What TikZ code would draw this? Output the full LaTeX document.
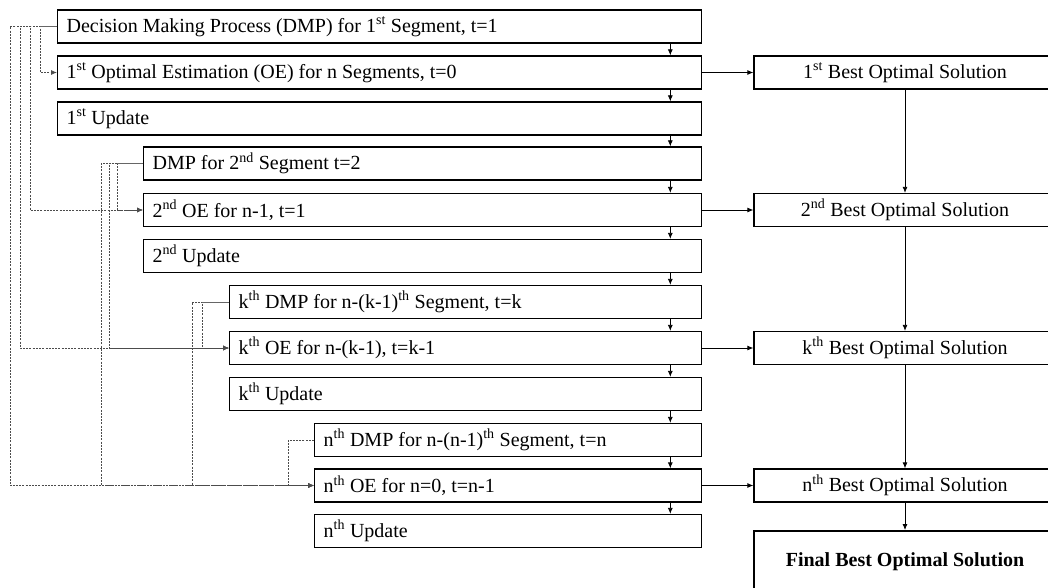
\documentclass[tikz,border=0pt]{standalone}
\usepackage{fontspec}
\setmainfont{Liberation Serif}
\usetikzlibrary{arrows.meta}
\tikzset{
  stepbox/.style={draw, line width=1.3pt, minimum height=33pt, inner xsep=9pt, inner ysep=0pt, align=flush left, anchor=west, font=\fontsize{20}{24}\selectfont},
  solbox/.style={draw, line width=1.3pt, minimum width=302pt, minimum height=33pt, inner sep=0pt, font=\fontsize{20}{24}\selectfont},
  flow/.style={line width=0.8pt, -{Latex[length=6pt,width=5pt]}},
  link/.style={draw=black!70, line width=0.8pt, dash pattern=on 2pt off 1.2pt, -{Latex[length=6pt,width=5pt]}},
  stub/.style={draw=black!60, line width=0.8pt}
}

\begin{document}
\begin{tikzpicture}[x=1pt, y=-1pt]
        \useasboundingbox (0,0) rectangle (1048,588);
        \clip (0,0) rectangle (1048,588);
        % left column
        \foreach \n/\x/\y/\t in {dmp1/57/26.5/{Decision Making Process (DMP) for 1\textsuperscript{st} Segment, t=1},
          oe1/57/72.5/{1\textsuperscript{st} Optimal Estimation (OE) for n Segments, t=0},
          upd1/57/118.5/{1\textsuperscript{st} Update},
          dmp2/143/163.5/{DMP for 2\textsuperscript{nd} Segment t=2},
          oe2/143/210/{2\textsuperscript{nd} OE for n-1, t=1},
          upd2/143/256/{2\textsuperscript{nd} Update},
          dmpk/229/302/{k\textsuperscript{th} DMP for n-(k-1)\textsuperscript{th} Segment, t=k},
          oek/229/348/{k\textsuperscript{th} OE for n-(k-1), t=k-1},
          updk/229/394/{k\textsuperscript{th} Update},
          dmpn/314/440/{n\textsuperscript{th} DMP for n-(n-1)\textsuperscript{th} Segment, t=n},
          oen/314/485.5/{n\textsuperscript{th} OE for n=0, t=n-1},
          updn/314/531/{n\textsuperscript{th} Update}}{
        \pgfmathsetmacro\w{701-\x-18}
        \node[stepbox, text width=\w pt] (\n) at (\x,\y) {\t};}
        \foreach \a/\b in {dmp1/oe1, oe1/upd1, upd1/dmp2, dmp2/oe2, oe2/upd2, upd2/dmpk, dmpk/oek, oek/updk, updk/dmpn, dmpn/oen, oen/updn}{
        \draw[flow] ([xshift=-32pt]\a.south east) -- ([xshift=-32pt]\b.north east);}
        % right column
        \node[solbox] (best1) at (905,72.5) {1\textsuperscript{st} Best Optimal Solution};
        \node[solbox] (best2) at (905,210) {2\textsuperscript{nd} Best Optimal Solution};
        \node[solbox] (bestk) at (905,348) {k\textsuperscript{th} Best Optimal Solution};
        \node[solbox] (bestn) at (905,485.5) {n\textsuperscript{th} Best Optimal Solution};
        \node[solbox, minimum height=62pt, line width=2pt, font=\fontsize{20}{24}\selectfont\bfseries] (final) at (905,562) {Final Best Optimal Solution};
        \foreach \a/\b in {oe1/best1, oe2/best2, oek/bestk, oen/bestn}{
        \draw[flow] (\a.east) -- (\b.west);}
        \foreach \a/\b in {best1/best2, best2/bestk, bestk/bestn, bestn/final}{
        \draw[flow] (\a) -- (\b);}
        % dotted links from each DMP to the later estimations
        \foreach \a/\d/\b in {dmp1/17/oe1, dmp1/27/oe2, dmp1/37/oek, dmp1/47/oen, dmp2/26/oe2, dmp2/34/oek, dmp2/42/oen, dmpk/27/oek, dmpk/37/oen, dmpn/26/oen}{
        \draw[link] (\a.west) -- ++(-\d,0) |- (\b.west);}
        \foreach \a/\d in {dmp1/17, dmp2/26, dmpk/27}{
        \draw[stub] (\a.west) -- ++(-\d,0);}
\end{tikzpicture}
\end{document}
